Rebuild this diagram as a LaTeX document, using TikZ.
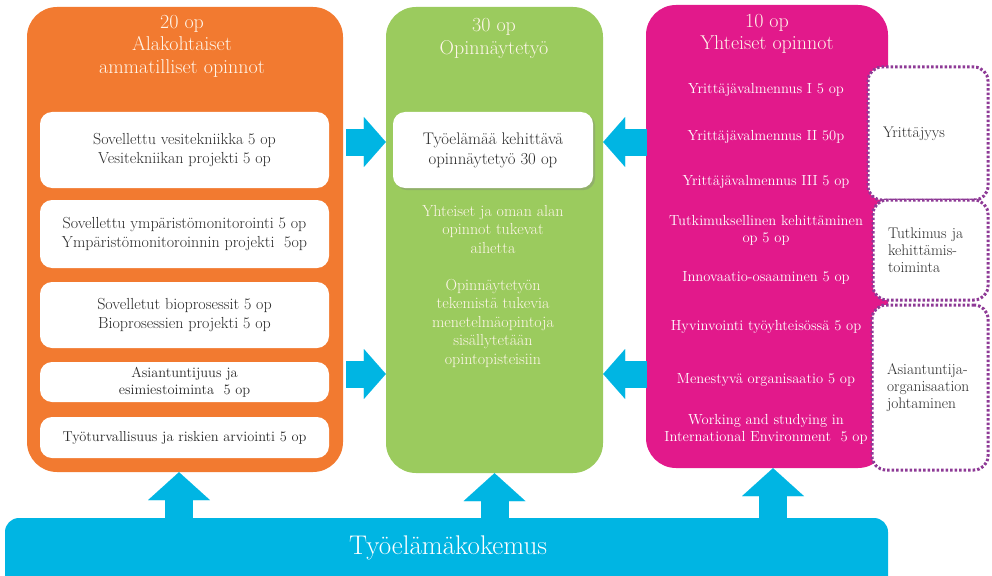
\documentclass[tikz,border=0pt]{standalone}
\usepackage{fontspec}
\usetikzlibrary{arrows.meta,shadows}
\definecolor{orng}{HTML}{F27A30}
\definecolor{lime}{HTML}{9BCB5E}
\definecolor{mgnt}{HTML}{E2198B}
\definecolor{sky}{HTML}{00B5E3}
\definecolor{plum}{HTML}{8E3A96}
\definecolor{ink}{HTML}{2B2B2B}
\definecolor{cream}{HTML}{FFF6EA}
\tikzset{
  px/.style={x=1pt,y=-1pt},
  colbox/.style={fill=#1,rounded corners=30pt,inner sep=0pt},
  hd/.style={align=center,text=cream,font=\fontsize{20}{22.5}\selectfont},
  wbox/.style={fill=white,rounded corners=12pt,minimum width=289pt,align=center,text=ink,font=\fontsize{16}{19}\selectfont},
  gtxt/.style={align=center,text=cream,font=\fontsize{16}{18.5}\selectfont},
  mtxt/.style={align=center,text=white,font=\fontsize{14.6}{17}\selectfont},
  dbox/.style={draw=plum,fill=white,line width=3pt,dash pattern=on 2.5pt off 2pt,rounded corners=14pt,
    inner xsep=15pt,text width=#1,align=left,text=ink,font=\fontsize{15.4}{17}\selectfont},
  harr/.style={sky,line width=27pt,-{Triangle[length=22pt,width=50pt,line width=0.01pt]}},
  varr/.style={sky,line width=28pt,-{Triangle[length=28pt,width=62pt,line width=0.01pt]}},
}
\begin{document}
\begin{tikzpicture}[px]
  \clip (0,0) rectangle (992,575);
  % three study blocks
  \node[colbox=orng,minimum width=316pt,minimum height=465pt] (alak) at (185,239.5) {};
  \node[colbox=lime,minimum width=217pt,minimum height=466pt] (opin) at (494.5,240) {};
  \node[colbox=mgnt,minimum width=242pt,minimum height=463pt] (yht) at (767,236.5) {};
  \node[hd] (alakhd) at (182,46) {20 op\\Alakohtaiset\\ammatilliset opinnot};
  \node[hd] (opinhd) at (494,38.5) {30 op\\Opinnäytetyö};
  \node[hd] (yhthd) at (767,34) {10 op\\Yhteiset opinnot};
  % orange column
  \node[wbox,minimum height=76pt] (vesi) at (184.5,150) {Sovellettu vesitekniikka 5 op\\Vesitekniikan projekti 5 op};
  \node[wbox,minimum height=68pt] (ymp) at (184.5,234) {Sovellettu ympäristömonitorointi 5 op\\Ympäristömonitoroinnin projekti\ \ 5op};
  \node[wbox,minimum height=66pt] (bio) at (184.5,315) {Sovelletut bioprosessit 5 op\\Bioprosessien projekti 5 op};
  \node[wbox,minimum height=40pt,font=\fontsize{14.4}{17}\selectfont] (esim) at (184.5,382) {Asiantuntijuus ja\\esimiestoiminta\ \ 5 op};
  \node[wbox,minimum height=41pt,font=\fontsize{14.4}{17}\selectfont] (turv) at (184.5,437.5) {Työturvallisuus ja riskien arviointi 5 op};
  % green column
  \node[wbox,minimum width=200pt,minimum height=76pt,font=\fontsize{16.8}{20}\selectfont,drop shadow={opacity=0.35}] (tyo) at (493,150) {Työelämää kehittävä\\opinnäytetyö 30 op};
  \node[gtxt] (tuki) at (493,229.5) {Yhteiset ja oman alan\\opinnot tukevat\\aihetta};
  \node[gtxt] (mene) at (493,323) {Opinnäytetyön\\tekemistä tukevia\\menetelmäopintoja\\sisällytetään\\opintopisteisiin};
  % magenta column
  \node[dbox=90pt,minimum width=120pt,minimum height=133pt] (yri) at (928,133.5) {Yrittäjyys};
  \node[dbox=85pt,minimum width=115pt,minimum height=100pt] (tki) at (930.5,250) {Tutkimus ja\\kehittämis-\\toiminta};
  \node[dbox=86pt,minimum width=116pt,minimum height=165pt] (joht) at (930,387.5) {Asiantuntija-\\organisaation\\johtaminen};
  \node[mtxt] (yv1) at (766,90) {Yrittäjävalmennus I 5 op};
  \node[mtxt] (yv2) at (766,137) {Yrittäjävalmennus II 50p};
  \node[mtxt] (yv3) at (766,182) {Yrittäjävalmennus III 5 op};
  \node[mtxt] (tutk) at (766,230) {Tutkimuksellinen kehittäminen\\op 5 op};
  \node[mtxt] (inno) at (766,278) {Innovaatio-osaaminen 5 op};
  \node[mtxt] (hyv) at (766,327) {Hyvinvointi työyhteisössä 5 op};
  \node[mtxt] (men) at (766,380) {Menestyvä organisaatio 5 op};
  \node[mtxt] (work) at (766,429) {Working and studying in\\International Environment\ \ 5 op};
  % work experience bar
  \node[fill=sky,rounded corners=14pt,minimum width=883pt,minimum height=80pt] (bar) at (446.5,558) {};
  \node[text=white,font=\fontsize{27}{30}\selectfont] (barhd) at (448,548) {Työelämäkokemus};
  % arrows
  \coordinate (r1) at (0,142);
  \coordinate (r2) at (0,374);
  \draw[harr,shorten <=3pt] (alak.east |- r1) -- (opin.west |- r1);
  \draw[harr,shorten <=3pt] (alak.east |- r2) -- (opin.west |- r2);
  \draw[harr,shorten <=-1pt] (yht.west |- r1) -- (opin.east |- r1);
  \draw[harr,shorten <=-1pt] (yht.west |- r2) -- (opin.east |- r2);
  \foreach \c/\dx in {alak/-6,opin/0,yht/6}
    \draw[varr,shorten <=-8pt] ([xshift=\dx pt]\c.south |- bar.north) -- ([xshift=\dx pt]\c.south);
\end{tikzpicture}
\end{document}
